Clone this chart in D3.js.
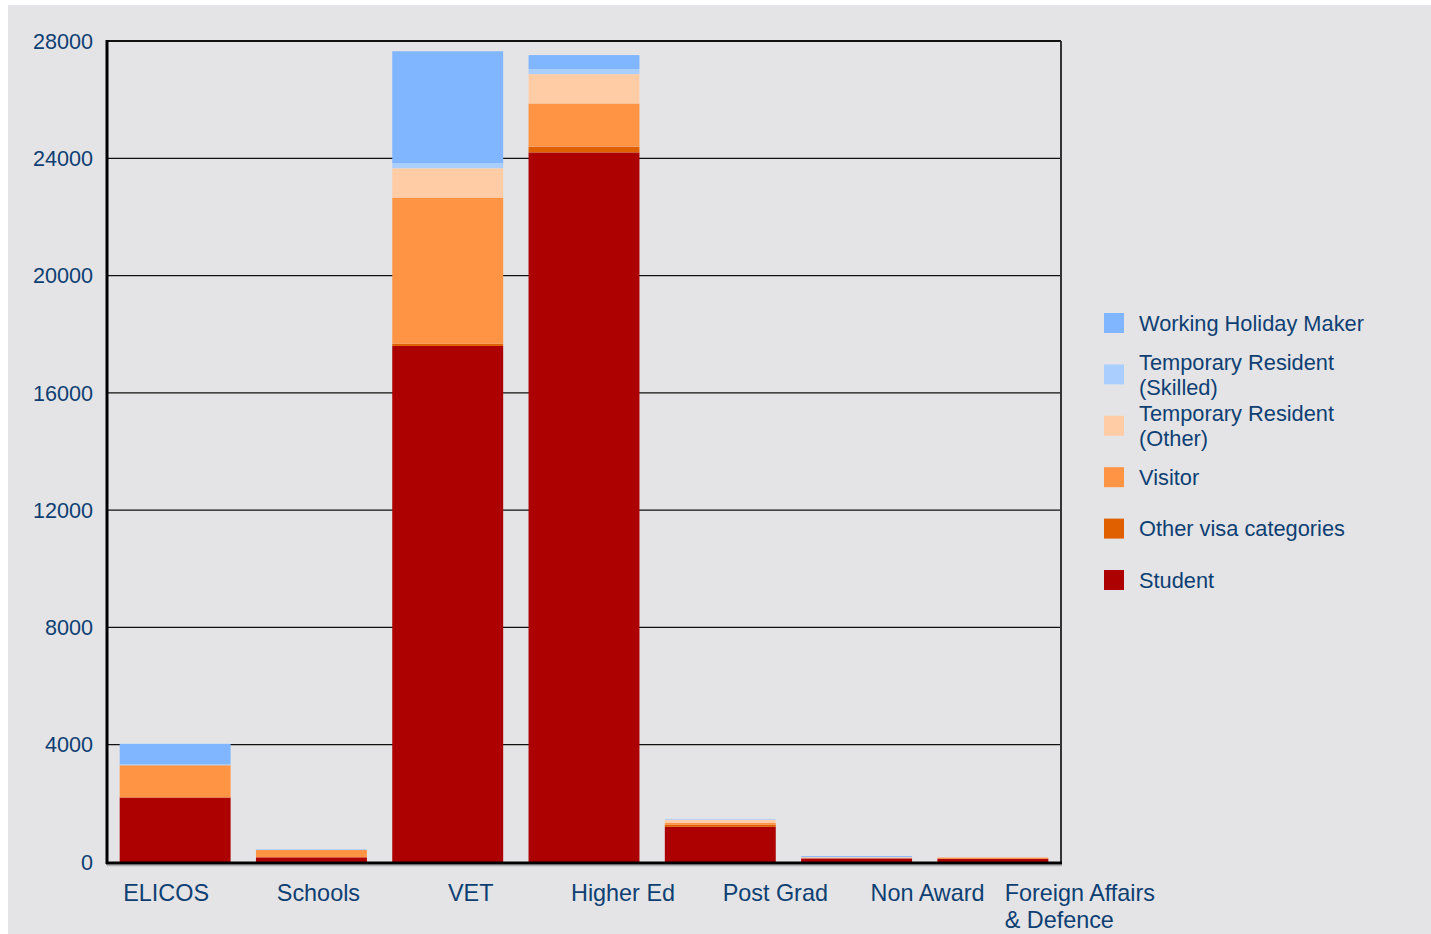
<!DOCTYPE html>
<html>
<head>
<meta charset="utf-8">
<script src="https://cdn.jsdelivr.net/npm/d3@7"></script>
<style>
html,body{margin:0;padding:0;background:#ffffff;}
svg{display:block;font-family:"Liberation Sans",Arial,sans-serif;}
</style>
</head>
<body>
<svg id="chart" width="1431" height="934"></svg>
<script>
// ---- data ----
const categories = ["ELICOS", "Schools", "VET", "Higher Ed", "Post Grad", "Non Award", "Foreign Affairs\n& Defence"];
const seriesNames = ["Student", "Other visa categories", "Visitor", "Temporary Resident\n(Other)", "Temporary Resident\n(Skilled)", "Working Holiday Maker"];
const student      = [2200, 160, 17600, 24200, 1200, 125, 110];
const otherVisa    = [0, 0, 80, 200, 70, 0, 0];
const visitor      = [1100, 250, 4980, 1470, 70, 0, 40];
const trOther      = [0, 0, 1000, 1000, 100, 40, 0];
const trSkilled    = [30, 30, 170, 170, 30, 0, 0];
const whm          = [700, 0, 3820, 480, 0, 35, 0];
const yTicks = [0, 4000, 8000, 12000, 16000, 20000, 24000, 28000];
const colors = ["#ad0000", "#e06000", "#ff9444", "#ffcca6", "#aacfff", "#80b6ff"];

const seriesValues = [student, otherVisa, visitor, trOther, trSkilled, whm];
const rows = categories.map((c, i) => {
  const r = {cat: c};
  seriesNames.forEach((s, j) => r[s] = seriesValues[j][i]);
  return r;
});

const svg = d3.select("#chart");
const W = 1431, H = 934;
const plot = {left: 107, right: 1061, top: 41, bottom: 862};
const textColor = "#0e3f73";

// background
svg.append("rect").attr("x", 8).attr("y", 5).attr("width", W - 8).attr("height", H - 5).attr("fill", "#e4e4e6");

const x = d3.scaleBand().domain(categories).range([plot.left, plot.right]).paddingInner(0.186).paddingOuter(0.093);
const y = d3.scaleLinear().domain([0, 28000]).range([plot.bottom, plot.top]);
// label positions (category labels are spaced a bit wider than the bars)
const xl = d3.scaleBand().domain(categories).range([90, 1156]);

// gridlines
svg.append("g").selectAll("line").data(yTicks.filter(t => t > 0)).join("line")
  .attr("x1", plot.left).attr("x2", plot.right)
  .attr("y1", d => y(d)).attr("y2", d => y(d))
  .attr("stroke", "#111").attr("stroke-width", 1.3);

// y tick labels
svg.append("g").selectAll("text").data(yTicks).join("text")
  .attr("x", 93).attr("y", d => y(d)).attr("dy", "0.36em")
  .attr("text-anchor", "end").attr("font-size", 21.6).attr("fill", textColor)
  .text(d => d);

// stacked bars
const stack = d3.stack().keys(seriesNames);
const stacked = stack(rows);
svg.append("g").selectAll("g").data(stacked).join("g")
  .attr("fill", (d, i) => colors[i])
  .selectAll("rect").data(d => d).join("rect")
  .attr("x", d => x(d.data.cat))
  .attr("width", x.bandwidth())
  .attr("y", d => y(d[1]))
  .attr("height", d => Math.max(0, y(d[0]) - y(d[1])));

// frame: right and top
svg.append("line").attr("x1", plot.left).attr("x2", plot.right).attr("y1", plot.top).attr("y2", plot.top)
  .attr("stroke", "#111").attr("stroke-width", 2);
svg.append("line").attr("x1", plot.right).attr("x2", plot.right).attr("y1", plot.top).attr("y2", plot.bottom + 2)
  .attr("stroke", "#333").attr("stroke-width", 2);
// bottom axis with light shadow
svg.append("line").attr("x1", plot.left).attr("x2", plot.right + 1).attr("y1", plot.bottom + 3.5).attr("y2", plot.bottom + 3.5)
  .attr("stroke", "#b0b0b4").attr("stroke-width", 1.5);
svg.append("line").attr("x1", plot.left - 1).attr("x2", plot.right + 1).attr("y1", plot.bottom + 1).attr("y2", plot.bottom + 1)
  .attr("stroke", "#000").attr("stroke-width", 3);
// left axis
svg.append("line").attr("x1", plot.left).attr("x2", plot.left).attr("y1", plot.top - 1).attr("y2", plot.bottom + 2)
  .attr("stroke", "#000").attr("stroke-width", 3);

// category labels
const lab = svg.append("g").attr("font-size", 23.4).attr("fill", textColor);
categories.forEach(c => {
  const lines = c.split("\n");
  const cx = xl(c) + xl.bandwidth() / 2;
  const t = lab.append("text").attr("y", 901);
  lines.forEach((ln, k) => {
    t.append("tspan").attr("dy", k === 0 ? 0 : 26.5).text(ln);
  });
  const w = d3.max(t.selectAll("tspan").nodes(), n => n.getComputedTextLength());
  t.selectAll("tspan").attr("x", cx - w / 2);
});

// legend (top to bottom: reverse stacking order)
const legendItems = seriesNames.map((s, i) => ({name: s, color: colors[i]})).reverse();
const ly = d3.scalePoint().domain(legendItems.map(d => d.name)).range([323, 580]);
const leg = svg.append("g");
legendItems.forEach(d => {
  const cy = ly(d.name);
  leg.append("rect").attr("x", 1104).attr("y", cy - 10).attr("width", 20).attr("height", 20).attr("fill", d.color);
  const lines = d.name.split("\n");
  const t = leg.append("text").attr("font-size", 21.8).attr("fill", textColor);
  const lh = 25;
  lines.forEach((ln, k) => {
    t.append("tspan").attr("x", 1139)
      .attr("y", cy - (lines.length - 1) * lh / 2 + k * lh)
      .attr("dy", "0.36em").text(ln);
  });
});
</script>
</body>
</html>
